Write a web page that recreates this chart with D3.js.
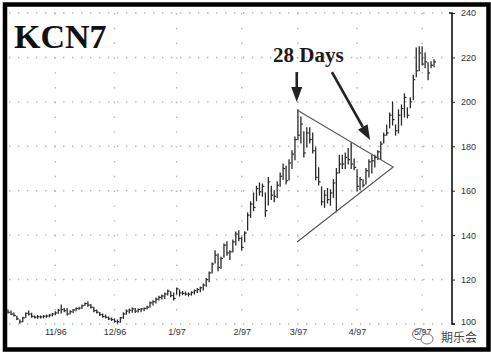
<!DOCTYPE html>
<html>
<head>
<meta charset="utf-8">
<script src="https://cdn.jsdelivr.net/npm/d3@7"></script>
<style>
  body { margin: 0; background: #fff; }
  svg { display: block; }
</style>
</head>
<body>
<div id="chart"></div>
<script>
// KCN7 daily bars, Oct 96 - May 97
const high = [106.3,105.8,105,103.5,101.8,103,105,105.9,104.8,103.6,103.8,103.6,103.8,104,104.2,104.8,
  105.5,106.5,108.6,107,107,106,106.5,107.2,107.5,108.5,109.5,110,108.8,107.5,106.3,105.2,104.5,104,103.2,102.7,
  102.3,101.8,103,105,106.3,106.8,107.2,107,106.8,107,107.2,108,109.9,110.5,111.7,112.5,113,113.9,115.3,114.5,113.9,
  116.2,115.3,114.6,114.4,114,114.5,115.3,116,116.7,118,120.5,123.4,127.5,133,131.5,130,136,137,133,137.8,141.4,142,
  139,141.5,150,155,159,162,163.5,163,159,166,162,160,164,168,172,171,173.9,178,184.2,
  196.4,193.2,186.5,188.3,188.3,186,179.3,170.3,161.7,160,161,160.4,165,170,176,176,177,179,181.5,174.3,169.4,166,
  164.9,170,173.9,176,176,178,182,186,189.6,195,200,189.6,196.4,198.6,203.6,197.3,201.8,212,224.3,
  224.8,224.8,222,217.6,218,218.9];
const low = [105,104.3,103.6,102,100.5,101,103,104,103,102.7,102.6,102.7,102.8,103,103.2,103.6,
  104.2,104.8,105,105.5,104,104.5,105.2,106,106.5,107,108.3,108,107.2,105.5,105,103.8,103,102.7,102,101.6,
  100.8,100.4,100.8,102.5,104.4,105,105.3,105.2,105.4,105.5,106,106.8,107.5,108.6,109.5,110.8,111.2,111.5,113,112.3,110.8,
  113.5,112.6,113.2,113,112.6,113,113.5,114.2,114.5,115.3,117,119,123,127.5,124,125,130,131,129,132.4,135.6,137.5,
  133.3,137,142.3,148,151,155.5,158,157.5,148.5,153.6,156,155,157,162,165,163,164.8,170,173.9,
  182.9,181.5,175.2,179.7,181.5,177,164.9,162.6,153.6,152.5,154.5,153.5,157,150.5,168,170,170,172,170,169.4,160,160.4,
  161.7,163,166.2,168,170.7,174,174,181.5,185,188.3,189.6,185,186,189.6,193.2,192.8,197.3,200.9,211.3,
  214,216.6,215.3,210,215.3,215.8];
const close = [105.3,104.5,103.8,102.3,101,102.8,104.8,104.5,103.4,103,103.3,103.2,103.5,103.6,104,104.5,
  105,106.2,106.5,106,104.5,105.5,106.3,107,107.2,108.2,109.2,108.5,107.5,106,105.3,104.2,103.4,103,102.3,102,
  101.2,101,102.8,104.5,105.8,106.2,106.8,105.8,106.5,106.8,107,107.6,109.5,110,111.2,112,112.6,113.5,114.8,112.8,111.5,
  115.8,114,113.8,113.5,113.4,114.2,115,115.5,116.3,117.5,120,123,127,131,125.5,129.5,135.5,132,132.5,137,140.5,138.5,
  134.5,141,149,154,152.5,161,159.5,162,151,164,158,157.5,162.5,166.5,170,164.5,172.5,176.5,183,
  185,190,177,186,183,178,166,164,155,158,156,159,163.5,168,172,172,175,174,172,170.5,162,165,
  162.5,169,173,173.5,175,177.5,181,185,186,194,192,187,194,197,202,194,200,210,214,
  222,217,218,213,216.5,218];

// first trading day of each month (bar index) and its label
const tickIndex = [16, 36, 57, 79, 98, 118, 140];
const tickLabels = ["11/96", "12/96", "1/97", "2/97", "3/97", "4/97", "5/97"];
const priceTicks = [100, 120, 140, 160, 180, 200, 220, 240];

// symmetrical triangle and the two arrows, in (bar index, price)
const triangle = [[97.7, 196.3], [130.2, 170.7], [97.7, 136.9]];
const arrows = [
  {from: [97.6, 213.4], to: [97.6, 199.9]},
  {from: [109.5, 213.4], to: [122.4, 182.8]}
];

const width = 491, height = 357;

const svg = d3.select('#chart')
  .append('svg')
  .attr('width', width)
  .attr('height', height);

const x = d3.scaleLinear().domain([0, high.length - 1]).range([8, 434]);
const y = d3.scaleLinear().domain([100, 240]).range([324, 13]);

// dotted grid
svg.append('g')
  .selectAll('line')
  .data(priceTicks)
  .join('line')
  .attr('x1', 9).attr('x2', 448)
  .attr('y1', d => y(d)).attr('y2', d => y(d))
  .attr('stroke', '#b5b5b5')
  .attr('stroke-width', 1.4)
  .attr('stroke-dasharray', '1.4,7.6');

svg.append('g')
  .selectAll('line')
  .data(tickIndex)
  .join('line')
  .attr('x1', d => x(d)).attr('x2', d => x(d))
  .attr('y1', y(240)).attr('y2', y(100))
  .attr('stroke', '#b5b5b5')
  .attr('stroke-width', 1.4)
  .attr('stroke-dasharray', '1.4,13.4');

// price axis on the right
const yAxis = d3.axisRight(y)
  .tickValues(priceTicks)
  .tickSize(3)
  .tickPadding(6);

const ag = svg.append('g')
  .attr('transform', 'translate(452,0)')
  .call(yAxis);
ag.select('.domain').attr('stroke', '#111').attr('stroke-width', 1.6)
  .attr('d', 'M-3,' + y(240) + 'H0V' + y(100) + 'H3');
ag.selectAll('.tick line').attr('stroke', '#222');
ag.selectAll('text')
  .attr('font-family', 'Liberation Sans, Arial, sans-serif')
  .attr('font-size', 9)
  .attr('fill', '#333');
// bottom label sits a little higher, just above the watermark
ag.selectAll('.tick').filter(d => d === 100).select('text').attr('dy', '0.1em');

// month labels
const xAxis = d3.axisBottom(x)
  .tickValues(tickIndex)
  .tickFormat((d, i) => tickLabels[i])
  .tickSize(0)
  .tickPadding(5);

const xg = svg.append('g')
  .attr('transform', 'translate(0,324)')
  .call(xAxis);
xg.select('.domain').remove();
xg.selectAll('text')
  .attr('font-family', 'Liberation Sans, Arial, sans-serif')
  .attr('font-size', 9)
  .attr('fill', '#333');

// HLC bars
const bars = svg.append('g').attr('class', 'bars');
const idx = d3.range(high.length);

bars.selectAll('line.hl')
  .data(idx)
  .join('line')
  .attr('class', 'hl')
  .attr('x1', i => x(i)).attr('x2', i => x(i))
  .attr('y1', i => y(high[i]) - 0.5).attr('y2', i => y(low[i]) + 0.5)
  .attr('stroke', '#2a2a2a')
  .attr('stroke-width', 1.3);

bars.selectAll('line.cl')
  .data(idx)
  .join('line')
  .attr('class', 'cl')
  .attr('x1', i => x(i)).attr('x2', i => x(i) + 2)
  .attr('y1', i => y(close[i])).attr('y2', i => y(close[i]))
  .attr('stroke', '#2a2a2a')
  .attr('stroke-width', 1.2);

// triangle
svg.append('path')
  .datum(triangle)
  .attr('d', d3.line().x(d => x(d[0])).y(d => y(d[1])))
  .attr('fill', 'none')
  .attr('stroke', '#555')
  .attr('stroke-width', 1.1);

// arrows
arrows.forEach(a => {
  const x0 = x(a.from[0]), y0 = y(a.from[1]);
  const x1 = x(a.to[0]), y1 = y(a.to[1]);
  const ang = Math.atan2(y1 - y0, x1 - x0);
  const len = 15, half = 5.5;
  const bx = x1 - len * Math.cos(ang), by = y1 - len * Math.sin(ang);
  svg.append('line')
    .attr('x1', x0).attr('y1', y0)
    .attr('x2', bx).attr('y2', by)
    .attr('stroke', '#222')
    .attr('stroke-width', 2.6);
  svg.append('path')
    .attr('d', 'M' + x1 + ',' + y1 +
      'L' + (bx + half * Math.sin(ang)) + ',' + (by - half * Math.cos(ang)) +
      'L' + (bx - half * Math.sin(ang)) + ',' + (by + half * Math.cos(ang)) + 'Z')
    .attr('fill', '#222');
});

// titles
svg.append('text')
  .attr('x', 14).attr('y', 48)
  .attr('font-family', 'Liberation Serif, Times New Roman, serif')
  .attr('font-weight', 'bold')
  .attr('font-size', 34)
  .attr('fill', '#111')
  .text('KCN7');

svg.append('text')
  .attr('x', 273).attr('y', 62)
  .attr('font-family', 'Liberation Serif, Times New Roman, serif')
  .attr('font-weight', 'bold')
  .attr('font-size', 21)
  .attr('fill', '#1a1a1a')
  .text('28 Days');

// watermark
const wm = svg.append('g').attr('fill', 'none').attr('stroke', '#777').attr('stroke-width', 1);
wm.append('ellipse').attr('cx', 419).attr('cy', 334).attr('rx', 6.5).attr('ry', 5.5);
wm.append('ellipse').attr('cx', 427).attr('cy', 339).attr('rx', 6).attr('ry', 5).attr('fill', '#fff');
svg.append('text')
  .attr('x', 441).attr('y', 342)
  .attr('font-family', 'Noto Sans CJK SC, sans-serif')
  .attr('font-size', 12)
  .attr('fill', '#444')
  .text('期乐会');

// frame
svg.append('rect')
  .attr('x', 5).attr('y', 4.5)
  .attr('width', 483.5).attr('height', 345)
  .attr('fill', 'none')
  .attr('stroke', '#000')
  .attr('stroke-width', 4.5);
</script>
</body>
</html>
